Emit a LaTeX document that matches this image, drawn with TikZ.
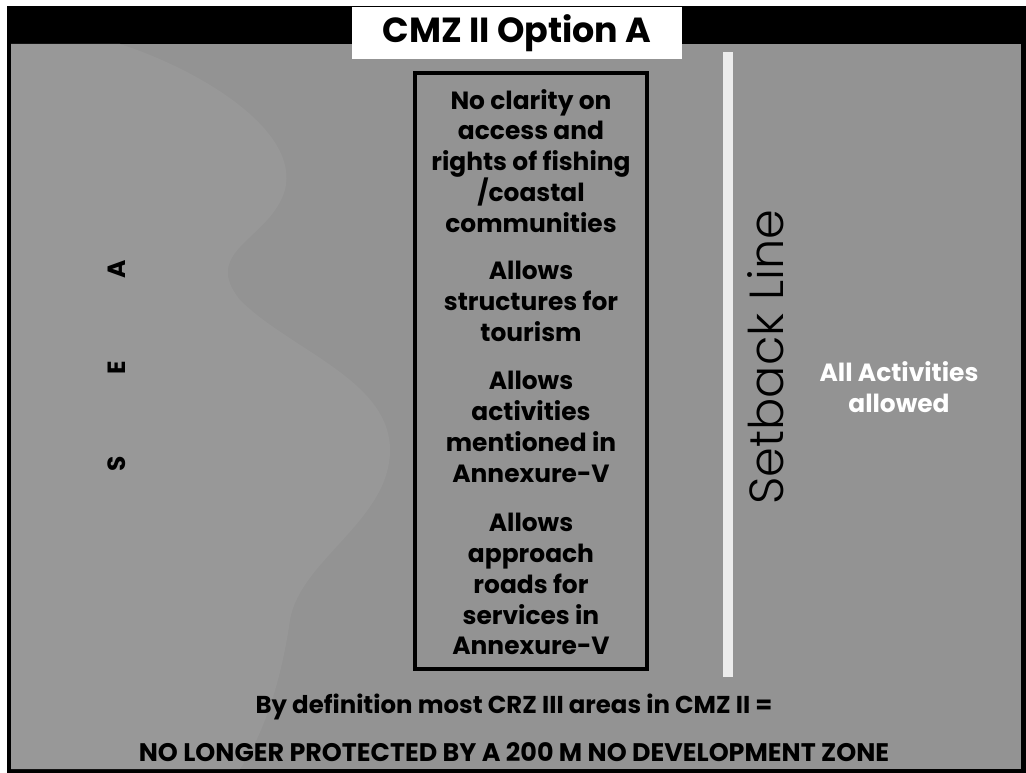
\documentclass[tikz,border=0pt]{standalone}
\usepackage{fontspec}
\setmainfont{Poppins}
\IfFontExistsTF{Poppins Light}{\newfontfamily\thinfont{Poppins Light}}{\newfontfamily\thinfont{Poppins}}
\definecolor{slidegray}{RGB}{147,147,147}
\definecolor{seagray}{RGB}{152,152,152}
\definecolor{linewhite}{RGB}{236,236,236}

\begin{document}
\begin{tikzpicture}[x=1bp, y=-1bp,
    boxtext/.style={align=center, font=\bfseries\fontsize{25}{31}\selectfont},
    foot/.style={font=\bfseries\fontsize{24.5}{26}\selectfont}]
  \useasboundingbox (0,0) rectangle (1026,773);
  % Frame and background
  \fill[white] (0,0) rectangle (1026,773);
  \fill[black] (7,6) rectangle (1026,773);
  \fill[slidegray] (11,44) rectangle (1021,769);

  % The sea, a lighter wavy band on the left
  \fill[seagray] (11,44) -- (120,44) .. controls (200,70) and (300,130) .. (285,190)
    .. controls (270,240) and (200,250) .. (240,300)
    .. controls (290,350) and (390,380) .. (390,450)
    .. controls (390,520) and (300,560) .. (290,620)
    .. controls (280,690) and (260,740) .. (240,769) -- (11,769) -- cycle;

  % Title
  \node[fill=white, minimum width=332, minimum height=52, inner sep=0,
    font=\bfseries\fontsize{35}{38}\selectfont] (title) at (517,33) {CMZ II Option A};

  % Sea label
  \node[rotate=90, font=\bfseries\fontsize{25}{28}\selectfont] (sea) at (117,366)
    {S\hspace{82bp}E\hspace{82bp}A};

  % Box of what the option allows
  \node[draw=black, line width=4bp, minimum width=232, minimum height=598] (rules) at (531,371) {};
  \node[boxtext] (access) at (531,161) {No clarity on\\access and\\rights of fishing\\/coastal\\communities};
  \node[boxtext] (tourism) at (531,301) {Allows\\structures for\\tourism};
  \node[boxtext] (annex) at (531,427) {Allows\\activities\\mentioned in\\Annexure-V};
  \node[boxtext] (roads) at (531,584) {Allows\\approach\\roads for\\services in\\Annexure-V};

  % Setback line
  \fill[linewhite] (723,52) rectangle (733,677);
  \node[rotate=90, font=\thinfont\fontsize{48}{50}\selectfont] (setback) at (766,357) {Setback Line};
  \node[align=center, text=white, font=\bfseries\fontsize{25}{31}\selectfont] (land) at (899,387)
    {All Activities\\allowed};

  % Bottom note
  \node[foot] (note) at (514,707) {By definition most CRZ III areas in CMZ II =};
  \node[foot, font=\bfseries\fontsize{25.5}{26}\selectfont] (zone) at (514,752)
    {NO LONGER PROTECTED BY A 200 M NO DEVELOPMENT ZONE};
\end{tikzpicture}
\end{document}
